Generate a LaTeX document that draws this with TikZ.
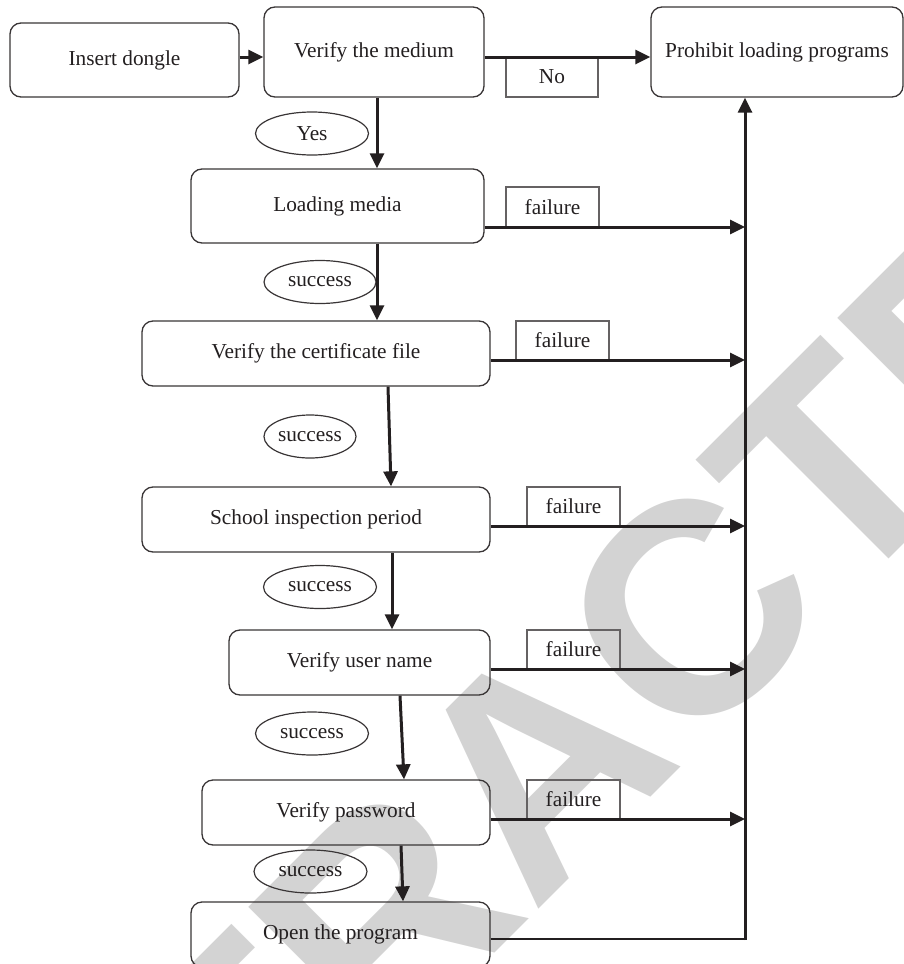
\documentclass[tikz,border=0pt]{standalone}
\usepackage{fontspec}
\setmainfont{Liberation Serif}
\newfontfamily\wmfont{Liberation Sans}
\usetikzlibrary{shapes.geometric,arrows.meta}

\definecolor{ink}{HTML}{231F20}
\definecolor{wm}{HTML}{D3D3D3}

\begin{document}
\begin{tikzpicture}[x=1pt,y=-1pt,
  every node/.style={font=\fontsize{21.3}{24}\selectfont, text=ink},
  stepbox/.style={draw=ink!90, line width=1.3pt, rounded corners=11pt, inner sep=0pt},
  tag/.style={draw=ink!70, line width=1.2pt, inner sep=0pt, minimum width=93pt, minimum height=39pt},
  oval/.style={ellipse, draw=ink!90, line width=1.2pt, inner sep=0pt, minimum width=113pt, minimum height=43pt},
  flow/.style={draw=ink, line width=3pt, -{Triangle[length=15pt,width=14pt]}},
  bus/.style={draw=ink, line width=2pt},
]
\useasboundingbox (0,0) rectangle (904,964);
\clip (0,0) rectangle (904,964);

% watermark behind the chart
\node[text=wm, font=\wmfont\bfseries\fontsize{300}{300}\selectfont, rotate=45, inner sep=0pt] (wmark) at (537,765) {RETRACTED};

% process boxes
\node[stepbox, minimum width=229pt, minimum height=74pt] (ins)    at (124.5,60)  {Insert dongle};
\node[stepbox, minimum width=220pt, minimum height=90pt] (med)    at (374,52)    {Verify the medium};
\node[stepbox, minimum width=252pt, minimum height=90pt] (proh)   at (777,52)    {Prohibit loading programs};
\node[stepbox, minimum width=293pt, minimum height=74pt] (load)   at (337.5,206) {Loading media};
\node[stepbox, minimum width=348pt, minimum height=65pt] (cert)   at (316,353.5) {Verify the certificate file};
\node[stepbox, minimum width=348pt, minimum height=65pt] (school) at (316,519.5) {School inspection period};
\node[stepbox, minimum width=261pt, minimum height=65pt] (user)   at (359.5,662.5) {Verify user name};
\node[stepbox, minimum width=288pt, minimum height=65pt] (pass)   at (346,812.5) {Verify password};
\node[stepbox, minimum width=299pt, minimum height=65pt] (open)   at (340.5,934.5) {Open the program};

% outcome labels
\node[tag, minimum width=92pt, minimum height=40pt] (no) at (552,77) {No};
\node[tag, minimum height=40pt] (f1) at (552.5,207)   {failure};
\node[tag] (f2) at (562.5,340.5) {failure};
\node[tag] (f3) at (573.5,506.5) {failure};
\node[tag] (f4) at (573.5,649.5) {failure};
\node[tag] (f5) at (573.5,799.5) {failure};

\node[oval] (yes) at (312,133.5) {Yes};
\node[oval, minimum width=112pt] (s1) at (320,282) {success};
\node[oval, minimum width=92pt]  (s2) at (310,436.5) {success};
\node[oval] (s3) at (320,587)   {success};
\node[oval] (s4) at (312,733.5) {success};
\node[oval] (s5) at (310.5,871.5) {success};

% helper points
\coordinate (a0) at ([yshift=3pt]ins.east);
\coordinate (a1) at (med.east |- a0);
\coordinate (v0) at (377,0);
\coordinate (j1) at (745,227);
\coordinate (j2) at (745,360);
\coordinate (j3) at (745,526);
\coordinate (j4) at (745,669);
\coordinate (j5) at (745,819);
\coordinate (corner) at (745,939);

% top row
\draw[flow] (a0) -- (a0 -| med.west);
\draw[flow] (a1) -- (a1 -| proh.west);

% main sequence
\draw[flow] (v0 |- med.south) -- (v0 |- load.north);
\draw[flow] (v0 |- load.south) -- (v0 |- cert.north);
\draw[flow] ([xshift=72pt]cert.south) -- ([xshift=75pt]school.north);
\draw[flow] ([xshift=76pt]school.south) -- ([xshift=76pt]school.south |- user.north);
\draw[flow] ([xshift=40.5pt]user.south) -- ([xshift=58pt]pass.north);
\draw[flow] ([xshift=55pt]pass.south) -- ([xshift=62.5pt]open.north);

% failure branches
\draw[flow] (j1 -| load.east) -- (j1);
\draw[flow] (j2 -| cert.east) -- (j2);
\draw[flow] (j3 -| school.east) -- (j3);
\draw[flow] (j4 -| user.east) -- (j4);
\draw[flow] (j5 -| pass.east) -- (j5);

% collecting line
\draw[bus] (corner -| open.east) -- (corner);
\draw[flow] ([yshift=-1pt]corner) -- (corner |- proh.south);
\end{tikzpicture}
\end{document}
